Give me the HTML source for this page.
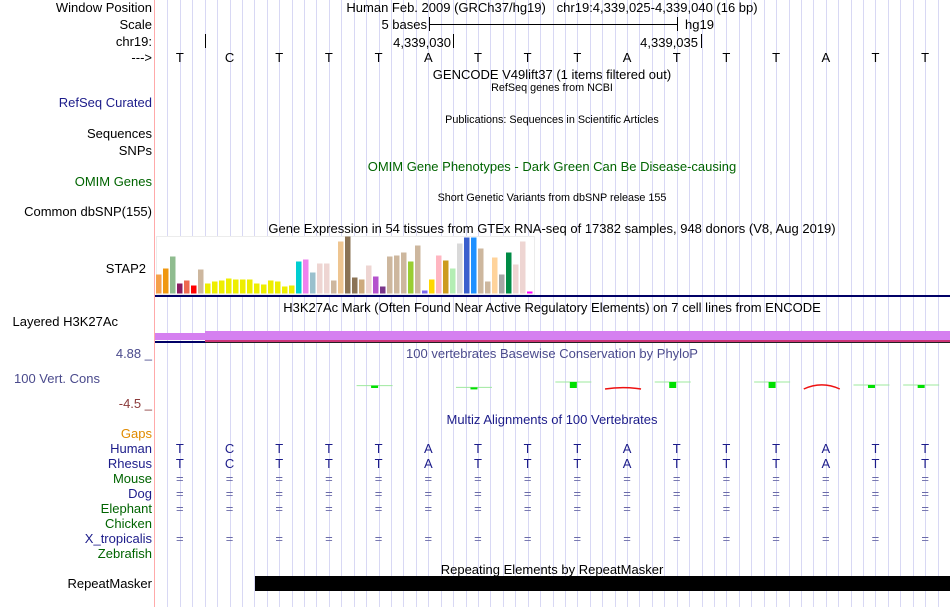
<!DOCTYPE html>
<html><head><meta charset="utf-8"><style>
html,body{margin:0;padding:0;background:#fff}
svg{display:block;font-family:"Liberation Sans",sans-serif}
</style></head><body>
<svg id="c" width="950" height="607" viewBox="0 0 950 607">
<g id="grid"></g>
<line x1="154.5" y1="0" x2="154.5" y2="607" stroke="#ffaaaa"/>
<g id="labels" font-size="13" text-anchor="end">
<text x="152" y="12" fill="#000">Window Position</text>
<text x="152" y="29" fill="#000">Scale</text>
<text x="152" y="46" fill="#000">chr19:</text>
<text x="152" y="62" fill="#000">---&gt;</text>
<text x="152" y="107" fill="#1c1c8a">RefSeq Curated</text>
<text x="152" y="138" fill="#000">Sequences</text>
<text x="152" y="155" fill="#000">SNPs</text>
<text x="152" y="186" fill="#006400">OMIM Genes</text>
<text x="152" y="216" fill="#000">Common dbSNP(155)</text>
<text x="146" y="273" fill="#000">STAP2</text>
<text x="118" y="326" fill="#000">Layered H3K27Ac</text>
<text x="152" y="358" fill="#4a4a8c">4.88 _</text>
<text x="100" y="383" fill="#4a4a8c">100 Vert. Cons</text>
<text x="152" y="408" fill="#8b3a3a">-4.5 _</text>
<text x="152" y="438" fill="#e08a00">Gaps</text>
<text x="152" y="453" fill="#1c1c8a">Human</text>
<text x="152" y="468" fill="#1c1c8a">Rhesus</text>
<text x="152" y="483" fill="#006400">Mouse</text>
<text x="152" y="498" fill="#1c1c8a">Dog</text>
<text x="152" y="513" fill="#006400">Elephant</text>
<text x="152" y="528" fill="#006400">Chicken</text>
<text x="152" y="543" fill="#1c1c8a">X_tropicalis</text>
<text x="152" y="558" fill="#006400">Zebrafish</text>
<text x="152" y="588" fill="#000">RepeatMasker</text>
</g>
<g font-size="13" text-anchor="middle">
<text x="552" y="12">Human Feb. 2009 (GRCh37/hg19)&#160;&#160;&#160;chr19:4,339,025-4,339,040 (16 bp)</text>
<text x="552" y="79">GENCODE V49lift37 (1 items filtered out)</text>
<text x="552" y="91" font-size="10.8">RefSeq genes from NCBI</text>
<text x="552" y="123" font-size="10.8">Publications: Sequences in Scientific Articles</text>
<text x="552" y="171" fill="#006400">OMIM Gene Phenotypes - Dark Green Can Be Disease-causing</text>
<text x="552" y="201" font-size="10.8">Short Genetic Variants from dbSNP release 155</text>
<text x="552" y="233">Gene Expression in 54 tissues from GTEx RNA-seq of 17382 samples, 948 donors (V8, Aug 2019)</text>
<text x="552" y="312">H3K27Ac Mark (Often Found Near Active Regulatory Elements) on 7 cell lines from ENCODE</text>
<text x="552" y="358" fill="#4a4a8c">100 vertebrates Basewise Conservation by PhyloP</text>
<text x="552" y="424" fill="#1c1c8a">Multiz Alignments of 100 Vertebrates</text>
<text x="552" y="574">Repeating Elements by RepeatMasker</text>
</g>
<g font-size="13">
<text x="427" y="29" text-anchor="end">5 bases</text>
<line x1="429.5" y1="17" x2="429.5" y2="31" stroke="#000"/>
<line x1="677.5" y1="17" x2="677.5" y2="31" stroke="#000"/>
<line x1="429" y1="24.5" x2="678" y2="24.5" stroke="#000"/>
<text x="685" y="29">hg19</text>
<line x1="205.5" y1="34" x2="205.5" y2="48" stroke="#000"/>
<text x="451" y="47" text-anchor="end">4,339,030</text>
<line x1="453.5" y1="34" x2="453.5" y2="48" stroke="#000"/>
<text x="698" y="47" text-anchor="end">4,339,035</text>
<line x1="701.5" y1="34" x2="701.5" y2="48" stroke="#000"/>
</g>
<g id="seq" font-size="13" text-anchor="middle"></g>
<rect x="156.5" y="236.5" width="378" height="58" fill="#fff" stroke="#ececec"/>
<g id="gtex"></g>
<rect x="155" y="295" width="795" height="2" fill="#000066"/>
<g>
<rect x="155" y="333" width="50" height="7" fill="#d580f0"/>
<rect x="205" y="331" width="745" height="9" fill="#d580f0"/>
<rect x="205" y="340" width="745" height="2" fill="#cc3377"/>
<rect x="155" y="341" width="50" height="2" fill="#000066"/>
<rect x="205" y="342" width="745" height="1" fill="#222"/>
</g>
<g id="cons"></g>
<g id="multiz" font-size="13" text-anchor="middle"></g>
<rect x="255" y="576" width="695" height="15" fill="#000"/>
</svg>
<script>
const bases = ["T","C","T","T","T","A","T","T","T","A","T","T","T","A","T","T"];
const gtexValues = [19,25,37,10,13,8,24,10,12,13,15,14,14,14,10,9,13,12,7,8,32,34,21,30,30,13,52,57,16,14,28,17,7,37,38,41,32,48,3,14,38,33,25,50,56,56,45,12,36,19,41,29,52,2];
const gtexColors = ["#f5a04b","#f09810","#8fbc8f","#8b1c62","#ee6a50","#ff0000","#cdb79e","#eeee00","#eeee00","#eeee00","#eeee00","#eeee00","#eeee00","#eeee00","#eeee00","#eeee00","#eeee00","#eeee00","#eeee00","#eeee00","#00ced1","#ee82ee","#9ac0cd","#eed5d2","#eed5d2","#cdb79e","#eec591","#8b7355","#8b7355","#cdaa7d","#eed5d2","#b452cd","#7a378b","#cdb79e","#cdb79e","#cdb79e","#9acd32","#cdb79e","#7b68ee","#ffd700","#ffb6c1","#cd9b1d","#b4eeb4","#d9d9d9","#3a5fcd","#1e90ff","#cdb79e","#cdb79e","#ffd39b","#a6a6a6","#008b45","#eed5d2","#eed5d2","#ff00ff"];
const consValues = [null,null,null,null,0.4,null,0.1,null,1.0,-0.3,1.0,null,1.0,-1.2,0.5,0.5];
const multizRows = [["Human",453,"seq"],["Rhesus",468,"seq"],["Mouse",483,"eq"],["Dog",498,"eq"],["Elephant",513,"eq"],["X_tropicalis",543,"eq"]];

const NS="http://www.w3.org/2000/svg";
function mk(tag,attrs,parent){const e=document.createElementNS(NS,tag);for(const k in attrs)e.setAttribute(k,attrs[k]);parent.appendChild(e);return e;}
const x0=155, bw=(950-155)/bases.length;
function baseX(i){return x0+bw*(i+0.5);}
const grid=document.getElementById('grid');
for(let k=1;k<bases.length*4;k++){
  const gx=Math.round(x0+k*bw/4)+0.5;
  const l=mk('line',{x1:gx,y1:0,x2:gx,y2:607,stroke:'#d8d8f4'},grid);
  
  
}
const seq=document.getElementById('seq');
bases.forEach((b,i)=>{const t=mk('text',{x:baseX(i),y:62},seq);t.textContent=b;
  
  });
const gtex=document.getElementById('gtex');
const gBase=293.5, gScale=1.0;
gtexValues.forEach((v,i)=>{
  const r=mk('rect',{x:156+i*7,y:gBase-v*gScale,width:5.5,height:v*gScale,fill:gtexColors[i]},gtex);
  
  
});
const cons=document.getElementById('cons');
const zeroY=388, cScale=6;
consValues.forEach((v,i)=>{
  if(v===null)return;
  const cx=baseX(i)-4;
  const g=mk('g',{},cons);
  
  
  if(v>=0){
    const y=zeroY-v*cScale;
    mk('line',{x1:cx-18,y1:y,x2:cx+18,y2:y,stroke:'#9ee89e','stroke-width':1},g);
    mk('rect',{x:cx-3.5,y:y,width:7,height:Math.max(2,v*cScale),fill:'#00e000'},g);
  }else{
    const c=zeroY+v*cScale;
    mk('path',{d:`M${cx-18} ${zeroY+1} Q${cx} ${c} ${cx+18} ${zeroY+1}`,stroke:'#ee1111','stroke-width':1.5,fill:'none'},g);
  }
});
const mz=document.getElementById('multiz');
multizRows.forEach(r=>{
  bases.forEach((b,i)=>{
    const t=mk('text',{x:baseX(i),y:r[1],fill:r[2]==='seq'?'#1c1c8a':'#6a6aa8'},mz);
    t.textContent=r[2]==='seq'?b:'=';
    
    
  });
});
</script>
</body></html>
